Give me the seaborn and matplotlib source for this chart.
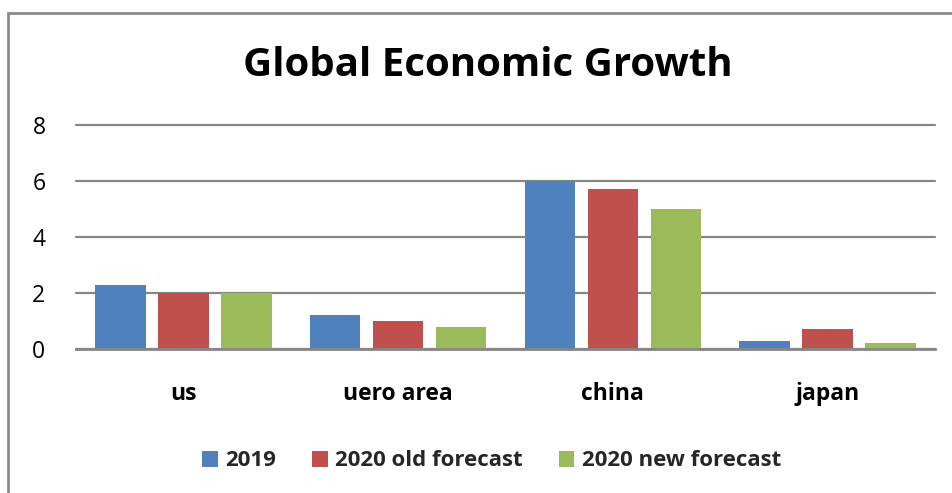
import matplotlib
matplotlib.use("Agg")
import matplotlib.pyplot as plt
import seaborn as sns
import pandas as pd
from matplotlib.patches import Rectangle

# Growth rates (%) by economy
regions = ["us", "uero area", "china", "japan"]
series = ["2019", "2020 old forecast", "2020 new forecast"]
growth_2019 = [2.3, 1.2, 6.0, 0.3]
growth_2020_old = [2.0, 1.0, 5.7, 0.7]
growth_2020_new = [2.0, 0.8, 5.0, 0.2]
colors = ["#4F81BD", "#C0504D", "#9BBB59"]
y_ticks = [0, 2, 4, 6, 8]

rows = []
for name, vals in zip(series, [growth_2019, growth_2020_old, growth_2020_new]):
    for reg, v in zip(regions, vals):
        rows.append({"region": reg, "series": name, "growth": v})
df = pd.DataFrame(rows)

sns.set_theme(style="white")
plt.rcParams["font.family"] = ["Open Sans", "DejaVu Sans"]

W, H = 953, 493
fig = plt.figure(figsize=(W / 100, H / 100), dpi=100)
ax = fig.add_axes([76 / W, 1 - 349 / H, (935 - 76) / W, (349 - 125) / H])

sns.barplot(data=df, x="region", y="growth", hue="series", order=regions,
            hue_order=series, palette=colors, width=0.88, gap=0.2,
            saturation=1, linewidth=0, ax=ax, legend=False)

ax.set_ylim(0, 8)
ax.set_yticks(y_ticks)
ax.set_xlim(-0.5, len(regions) - 0.5)
ax.yaxis.grid(True, color="#878787", linewidth=1.6)
for gl in ax.get_ygridlines():
    gl.set_clip_on(False)
ax.set_axisbelow(True)
for side in ["top", "right", "left"]:
    ax.spines[side].set_visible(False)
ax.spines["bottom"].set_color("#878787")
ax.spines["bottom"].set_linewidth(2)
ax.tick_params(axis="both", length=0)
ax.tick_params(axis="y", labelsize=16.5, pad=22, labelcolor="black")
ax.tick_params(axis="x", labelsize=16.5, pad=24, labelcolor="black")
for lbl in ax.get_xticklabels():
    lbl.set_fontweight("bold")
ax.set_xlabel("")
ax.set_ylabel("")

fig.text(0.512, 1 - 66 / H, "Global Economic Growth", ha="center", va="center",
         fontsize=29, fontweight="bold", color="black")

handles = [Rectangle((0, 0), 1, 1, facecolor=c, edgecolor="none") for c in colors]
leg = fig.legend(handles, series, loc="center", bbox_to_anchor=(0.516, 1 - 461 / H),
                 ncol=3, frameon=False, handlelength=0.7, handleheight=0.7,
                 handletextpad=0.35, columnspacing=1.6,
                 prop={"size": 16, "weight": "bold"})

# outer chart border
fig.patches.append(Rectangle((8 / W, -0.05), 1.2, 1 - 13 / H + 0.05,
                             transform=fig.transFigure, fill=False,
                             edgecolor="#8c8c8c", linewidth=2))

fig.savefig("out.png", dpi=100)
